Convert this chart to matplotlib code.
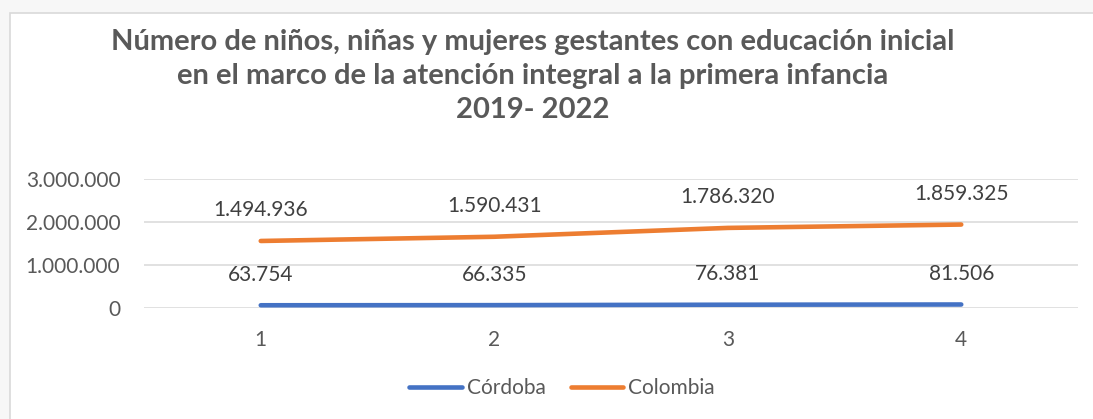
import matplotlib.pyplot as plt
from matplotlib.patches import Rectangle
from matplotlib.ticker import FuncFormatter

## Data (stacked line chart: Colombia sits on top of Córdoba)
years      = [1, 2, 3, 4]
cordoba    = [63754, 66335, 76381, 81506]
colombia   = [1494936, 1590431, 1786320, 1859325]
y_ticks    = [0, 1000000, 2000000, 3000000]

title = ('Número de niños, niñas y mujeres gestantes con educación inicial\n'
         'en el marco de la atención integral a la primera infancia\n'
         '2019- 2022')

BLUE   = '#4472C4'
ORANGE = '#ED7D31'
GREY   = '#595959'

plt.rcParams['font.family'] = ['Lato', 'DejaVu Sans']


def es_thousands(v, pos=None):
    ''' Spanish style thousands separator '''
    return f'{int(round(v)):,}'.replace(',', '.')


fig = plt.figure(figsize=(10.93, 4.19), dpi=100)
fig.patch.set_facecolor('#f7f7f7')

## chart area with thin border, as in the Excel export
fig.patches.append(Rectangle((10/1093, -0.01), 1.1, (419-13)/419 + 0.01,
                             transform=fig.transFigure, facecolor='white',
                             edgecolor='#d9d9d9', linewidth=1.2, zorder=-5))

ax = fig.add_axes([144/1093, 111/419, 934/1093, 129/419])
ax.set_facecolor('none')
ax.set_zorder(2)

stacked = [a + b for a, b in zip(cordoba, colombia)]

ax.plot(years, cordoba, color=BLUE, lw=3.3, solid_capstyle='round', zorder=3)
ax.plot(years, stacked, color=ORANGE, lw=3.3, solid_capstyle='round', zorder=3)

## data labels, shown above each point
for x, ypos, val in zip(years, cordoba, cordoba):
    ax.annotate(es_thousands(val), (x, ypos), xytext=(0, 22), textcoords='offset points',
                ha='center', va='center', fontsize=15, color='#404040')
for x, ypos, val in zip(years, stacked, colombia):
    ax.annotate(es_thousands(val), (x, ypos), xytext=(0, 22), textcoords='offset points',
                ha='center', va='center', fontsize=15, color='#404040')

ax.set_xlim(0.5, 4.5)
ax.set_ylim(0, 3000000)
ax.set_xticks(years)
ax.set_yticks(y_ticks)
ax.yaxis.set_major_formatter(FuncFormatter(es_thousands))
ax.tick_params(axis='both', length=0, labelsize=15, labelcolor=GREY)
ax.tick_params(axis='y', pad=17)
ax.tick_params(axis='x', pad=16)
ax.grid(axis='y', color='#d9d9d9', lw=1.1)
ax.set_axisbelow(True)
for s in ax.spines.values():
    s.set_visible(False)

fig.text(533/1093, 1 - 76/419, title, ha='center', va='center', fontsize=21,
         fontweight='bold', color=GREY, linespacing=1.4)

ax.legend(['Córdoba', 'Colombia'], loc='center', bbox_to_anchor=(0.4475, -0.62),
          ncol=2, frameon=False, fontsize=15, labelcolor=GREY, handlelength=2.5,
          handletextpad=0.25, columnspacing=1.2)

fig.savefig('out.png', dpi=100, facecolor=fig.get_facecolor())
